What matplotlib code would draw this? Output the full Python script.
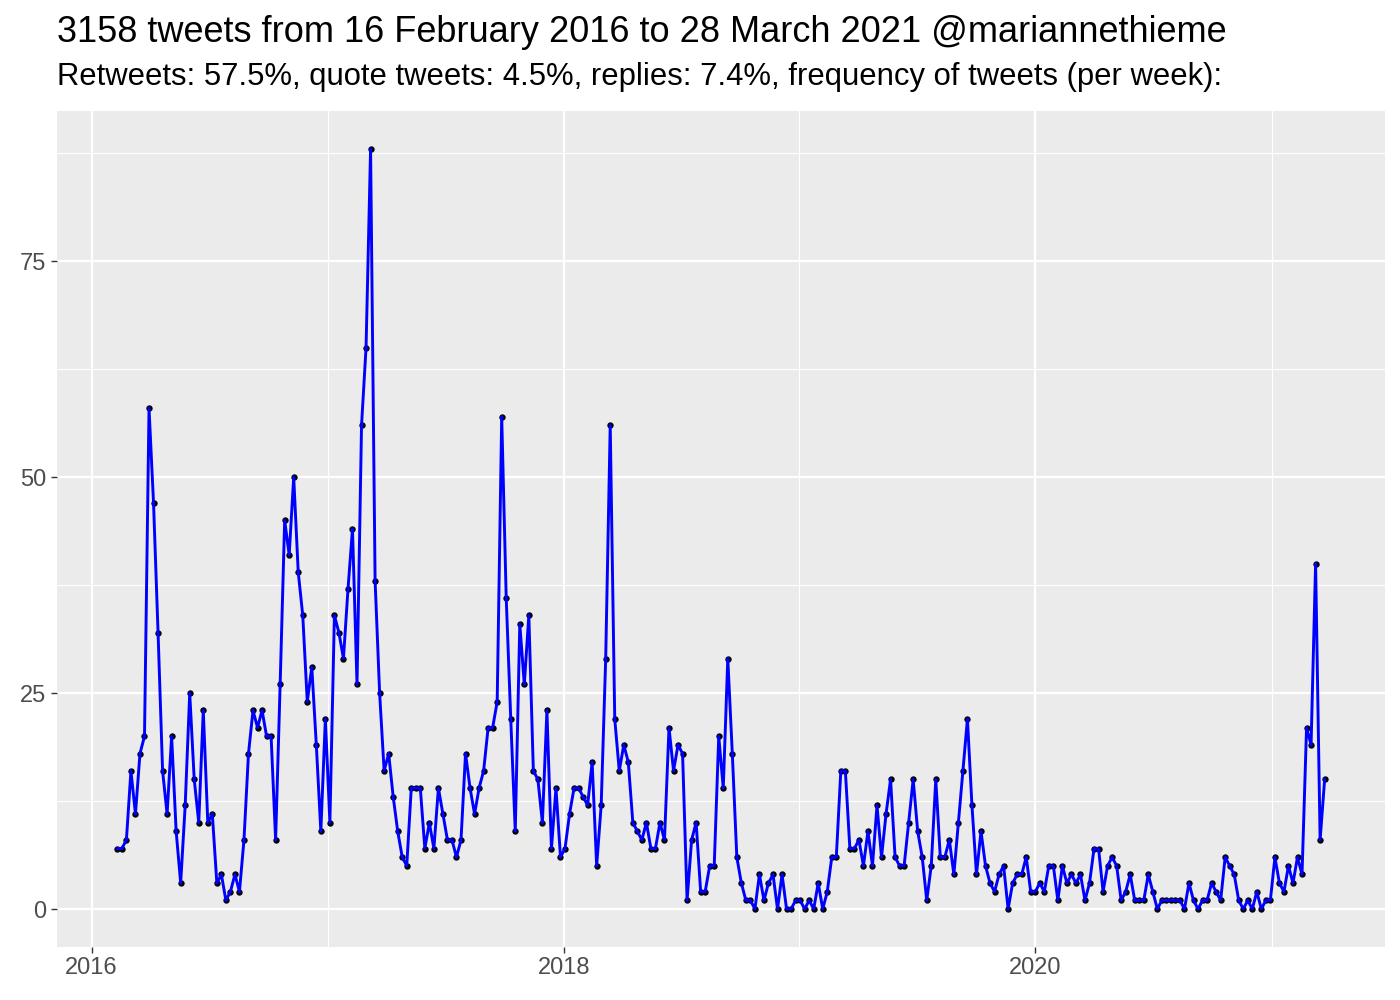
import numpy as np
import pandas as pd
import matplotlib
matplotlib.use("Agg")
import matplotlib.pyplot as plt
import matplotlib.dates as mdates

# weekly tweet counts
counts = [
    7, 7, 8, 16, 11, 18, 20, 58, 47, 32, 16, 11, 20, 9, 3, 12, 25, 15, 10, 23,
    10, 11, 3, 4, 1, 2, 4, 2, 8, 18, 23, 21, 23, 20, 20, 8, 26, 45, 41, 50,
    39, 34, 24, 28, 19, 9, 22, 10,
    34, 32, 29, 37, 44, 26, 56, 65, 88, 38,
    25, 16, 18, 13, 9, 6, 5, 14, 14, 14,
    7, 10, 7, 14, 11, 8, 8, 6, 8, 18,
    14, 11, 14, 16, 21, 21, 24, 57, 36, 22,
    9, 33, 26, 34, 16, 15, 10, 23, 7, 14,
    6, 7, 11, 14, 14, 13, 12, 17, 5, 12,
    29, 56, 22, 16, 19, 17, 10, 9, 8, 10,
    7, 7, 10, 8, 21, 16, 19, 18, 1, 8,
    10, 2, 2, 5, 5, 20, 14, 29, 18, 6,
    3, 1, 1, 0, 4, 1, 3, 4, 0, 4,
    0, 0, 1, 1, 0, 1, 0, 3, 0, 2,
    6, 6, 16, 16, 7, 7, 8, 5, 9, 5,
    12, 6, 11, 15, 6, 5, 5, 10, 15, 9,
    6, 1, 5, 15, 6, 6, 8, 4, 10, 16,
    22, 12, 4, 9, 5, 3, 2, 4, 5, 0,
    3, 4, 4, 6, 2, 2, 3, 2, 5, 5,
    1, 5, 3, 4, 3, 4, 1, 3, 7, 7,
    2, 5, 6, 5, 1, 2, 4, 1, 1, 1,
    4, 2, 0, 1, 1, 1, 1, 1, 0, 3,
    1, 0, 1, 1, 3, 2, 1, 6, 5, 4,
    1, 0, 1, 0, 2, 0, 1, 1, 6, 3,
    2, 5, 3, 6, 4, 21, 19, 40, 8, 15,
]
weeks = pd.date_range(start="2016-02-10", periods=len(counts), freq="7D")

title = "3158 tweets from 16 February 2016 to 28 March 2021 @mariannethieme"
subtitle = "Retweets: 57.5%, quote tweets: 4.5%, replies: 7.4%, frequency of tweets (per week):"
year_ticks = ["2016", "2018", "2020"]
minor_years = ["2017", "2019", "2021"]
y_ticks = [0, 25, 50, 75]
y_minor = [12.5, 37.5, 62.5, 87.5]

plt.rcParams["font.family"] = ["Liberation Sans", "DejaVu Sans"]

fig = plt.figure(figsize=(14, 10), dpi=100)
ax = fig.add_axes([57 / 1400, 1 - 947 / 1000, (1385 - 57) / 1400, (947 - 111) / 1000])
ax.set_facecolor("#EBEBEB")

ax.scatter(weeks, counts, s=21, color="black", zorder=2, linewidths=0)
ax.plot(weeks, counts, color="blue", linewidth=2.1, zorder=3)

ax.set_xticks([pd.Timestamp(y + "-01-01") for y in year_ticks])
ax.set_xticklabels(year_ticks)
ax.set_xticks([pd.Timestamp(y + "-01-01") for y in minor_years], minor=True)
ax.set_yticks(y_ticks)
ax.set_yticks(y_minor, minor=True)

span = weeks[-1] - weeks[0]
ax.set_xlim(weeks[0] - span * 0.05, weeks[-1] + span * 0.05)
ax.set_ylim(-88 * 0.05, 88 * 1.05)

ax.grid(which="major", color="white", linewidth=1.6)
ax.grid(which="minor", color="white", linewidth=0.8)
ax.set_axisbelow(True)
for s in ax.spines.values():
    s.set_visible(False)
ax.tick_params(which="major", length=4, width=1, color="#333333", labelcolor="#4D4D4D", labelsize=17)
ax.tick_params(which="minor", length=0)

fig.text(57 / 1400, 1 - 32 / 1000, title, fontsize=26, va="center", ha="left")
fig.text(57 / 1400, 1 - 77 / 1000, subtitle, fontsize=22.3, va="center", ha="left")

fig.savefig("out.png", dpi=100)
